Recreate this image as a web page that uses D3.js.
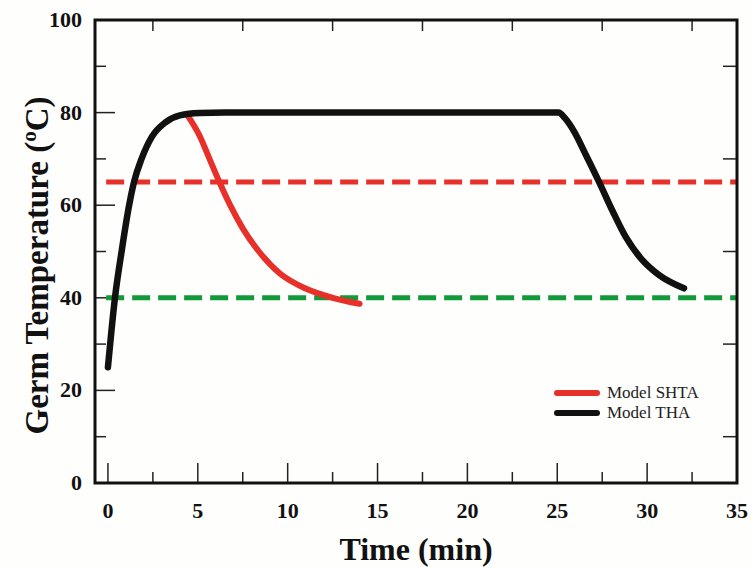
<!DOCTYPE html>
<html>
<head>
<meta charset="utf-8">
<script src="https://cdn.jsdelivr.net/npm/d3@7"></script>
<style>
  body { margin: 0; background: #fefefd; }
  svg { display: block; }
</style>
</head>
<body>
<svg id="chart" width="752" height="567"></svg>
<script>
// Model THA
var thaTime = [0, 0.39, 0.76, 1.18, 1.45, 1.87, 2.45, 3.2, 4.0, 5.1, 6.5, 10, 15, 20, 25.06, 25.43, 25.94, 26.6, 27.33, 28.07, 28.8, 29.7, 30.67, 32.05];
var thaTemp = [25, 40, 50, 60, 65, 70, 74.8, 77.9, 79.4, 79.9, 80, 80, 80, 80, 80, 78.8, 75.9, 70.8, 65, 58.8, 53.2, 48.3, 44.9, 42.05];

// Model SHTA
var shtaTime = [4.45, 5.1, 5.65, 6.2, 6.8, 7.5, 8.4, 9.55, 11.0, 12.5, 14.0];
var shtaTemp = [79.3, 75, 70, 65, 60, 55, 50, 45.3, 42, 40, 38.7];

// reference levels
var refLevels = [65, 40];
var refColors = ["#e8302b", "#12993a"];

var xTicks = [0, 5, 10, 15, 20, 25, 30, 35];
var yTicks = [0, 20, 40, 60, 80, 100];

var legendNames = ["Model SHTA", "Model THA"];
var lineColors = ["#e8302b", "#111111"];

const svg = d3.select("#chart");

// plot box (window.top is taken, so prefixed names)
const pLeft = 95, pRight = 737, pTop = 20, pBottom = 483;

var x = d3.scaleLinear().domain([-0.72, 35]).range([pLeft, pRight]);
var y = d3.scaleLinear().domain([0, 100]).range([pBottom, pTop]);

var serif = "'Liberation Serif', 'Times New Roman', serif";

// ticks (inward)
var ticks = svg.append("g").attr("stroke", "#222").attr("stroke-width", 1.5);

ticks.selectAll(".xmaj").data(d3.range(0, 31, 5)).enter().append("line")
    .attr("x1", d => x(d)).attr("x2", d => x(d))
    .attr("y1", pBottom).attr("y2", pBottom - 20);
ticks.selectAll(".xmin").data(d3.range(2.5, 35, 5)).enter().append("line")
    .attr("x1", d => x(d)).attr("x2", d => x(d))
    .attr("y1", pBottom).attr("y2", pBottom - 11);
ticks.selectAll(".xtop").data(d3.range(2.5, 35, 5)).enter().append("line")
    .attr("x1", d => x(d)).attr("x2", d => x(d))
    .attr("y1", pTop).attr("y2", pTop + 11);
ticks.selectAll(".ymaj").data(d3.range(20, 100, 20)).enter().append("line")
    .attr("x1", pLeft).attr("x2", pLeft + 20)
    .attr("y1", d => y(d)).attr("y2", d => y(d));
ticks.selectAll(".ymin").data(d3.range(10, 100, 20)).enter().append("line")
    .attr("x1", pLeft).attr("x2", pLeft + 11)
    .attr("y1", d => y(d)).attr("y2", d => y(d));
ticks.selectAll(".yright").data(d3.range(10, 100, 20)).enter().append("line")
    .attr("x1", pRight).attr("x2", pRight - 14)
    .attr("y1", d => y(d)).attr("y2", d => y(d));

// dashed reference lines
svg.selectAll(".ref").data(refLevels).enter().append("line")
    .attr("x1", x(-0.1)).attr("x2", pRight)
    .attr("y1", d => y(d)).attr("y2", d => y(d))
    .attr("stroke", (d, i) => refColors[i])
    .attr("stroke-width", 5)
    .attr("stroke-dasharray", "18,8");

var line = d3.line()
    .x(d => x(d[0]))
    .y(d => y(d[1]))
    .curve(d3.curveMonotoneX);

svg.append("path")
    .attr("d", line(d3.zip(shtaTime, shtaTemp)))
    .attr("fill", "none")
    .attr("stroke", lineColors[0])
    .attr("stroke-width", 6)
    .attr("stroke-linecap", "round");

svg.append("path")
    .attr("d", line(d3.zip(thaTime, thaTemp)))
    .attr("fill", "none")
    .attr("stroke", lineColors[1])
    .attr("stroke-width", 6.5)
    .attr("stroke-linecap", "round");

// frame
svg.append("rect")
    .attr("x", pLeft).attr("y", pTop)
    .attr("width", pRight - pLeft).attr("height", pBottom - pTop)
    .attr("fill", "none")
    .attr("stroke", "#111")
    .attr("stroke-width", 3);

// tick labels
svg.selectAll(".xl").data(xTicks).enter().append("text")
    .attr("x", d => x(d)).attr("y", pBottom + 35)
    .attr("text-anchor", "middle")
    .style("font", "bold 22px " + serif)
    .attr("fill", "#111")
    .text(d => d);

svg.selectAll(".yl").data(yTicks).enter().append("text")
    .attr("x", pLeft - 13).attr("y", d => y(d) + 7)
    .attr("text-anchor", "end")
    .style("font", "bold 22px " + serif)
    .attr("fill", "#111")
    .text(d => d);

// axis titles
svg.append("text")
    .attr("x", (pLeft + pRight) / 2).attr("y", 560)
    .attr("text-anchor", "middle")
    .style("font", "bold 32px " + serif)
    .attr("fill", "#111")
    .text("Time (min)");

var yt = svg.append("text")
    .attr("transform", "translate(48," + ((pTop + pBottom) / 2 + 14) + ") rotate(-90)")
    .attr("text-anchor", "middle")
    .style("font", "bold 33px " + serif)
    .attr("fill", "#111");
yt.append("tspan").text("Germ Temperature (");
yt.append("tspan").attr("dy", -12).style("font-size", "21px").text("o");
yt.append("tspan").attr("dy", 12).text("C)");

// legend
var lg = svg.append("g").attr("transform", "translate(557,393)");
lg.selectAll("line").data(legendNames).enter().append("line")
    .attr("x1", 0).attr("x2", 40)
    .attr("y1", (d, i) => i * 20).attr("y2", (d, i) => i * 20)
    .attr("stroke", (d, i) => lineColors[i])
    .attr("stroke-width", 6)
    .attr("stroke-linecap", "round");
lg.selectAll("text").data(legendNames).enter().append("text")
    .attr("x", 50).attr("y", (d, i) => i * 20 + 5)
    .style("font", "17px " + serif)
    .attr("fill", "#222")
    .text(d => d);
</script>
</body>
</html>
